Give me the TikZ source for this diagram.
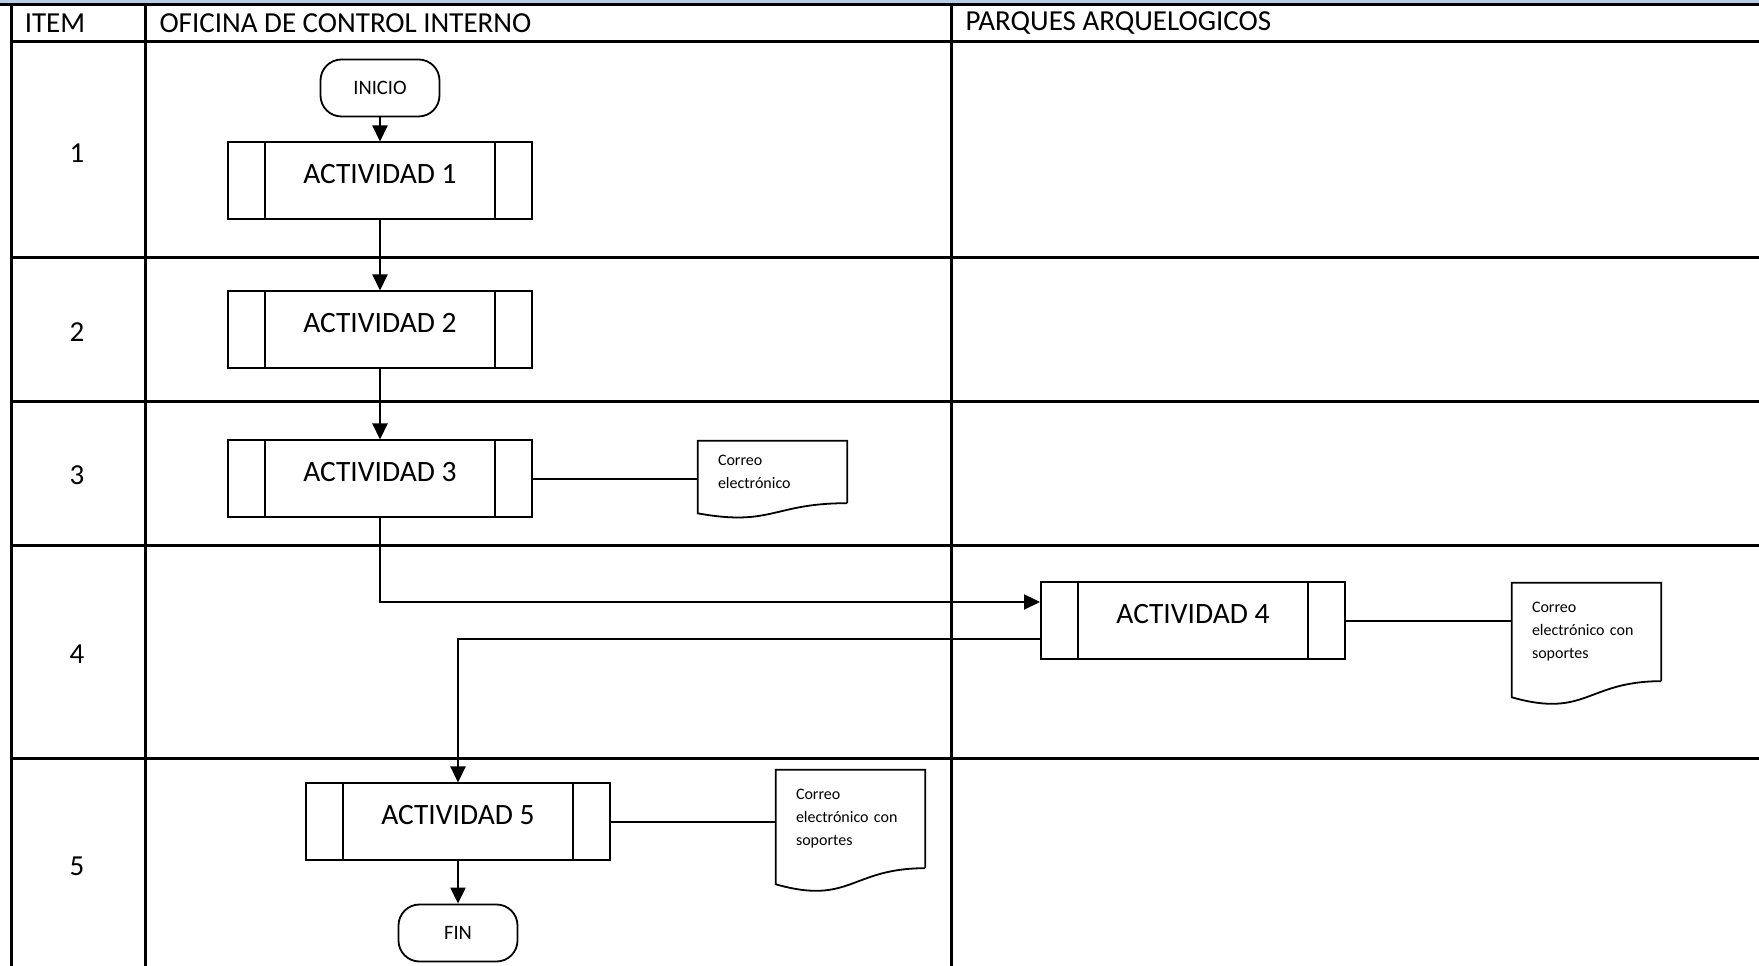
\documentclass[tikz,border=0pt]{standalone}
\usepackage{fontspec}
\setmainfont{Carlito}
\usepackage{tikz}
\usetikzlibrary{calc}
\usetikzlibrary{arrows.meta}

\definecolor{franja}{RGB}{184,204,228}

\begin{document}
\begin{tikzpicture}[x=1pt,y=1pt,>={Triangle[length=16pt,width=15pt]},
  linea/.style={line width=3pt},
  conector/.style={line width=2.2pt},
  terminal/.style={draw, rectangle, rounded corners=21pt, minimum width=119pt,
    minimum height=57pt, line width=1.8pt, font=\fontsize{20.5}{24}\selectfont},
  proceso/.style={draw, rectangle, minimum width=304pt, minimum height=77pt,
    line width=2pt, text depth=14pt, font=\fontsize{29.5}{34}\selectfont,
    path picture={\draw[line width=1.4pt]
      ([xshift=37pt]path picture bounding box.north west) -- ([xshift=37pt]path picture bounding box.south west)
      ([xshift=-37pt]path picture bounding box.north east) -- ([xshift=-37pt]path picture bounding box.south east);}},
  documento/.style={rectangle, minimum width=149pt, text width=109pt, align=left,
    font=\fontsize{16}{23}\selectfont},
  titulo/.style={font=\fontsize{29}{34}\selectfont}]
  \useasboundingbox (0,0) rectangle (1759,966);

  % tabla
  \fill[franja] (0,963) rectangle (1759,966);
  \draw[line width=3.5pt] (0,961.5) -- (1759,961.5);
  \foreach \y in {924,708,564,420,207}
    \draw[linea] (11,\y) -- (1759,\y);
  \foreach \x in {11,145,951}
    \draw[linea] (\x,961.5) -- (\x,0);

  \node[titulo]              (item)    at (55,943)  {ITEM};
  \node[titulo, anchor=west] (oficina) at (156,943) {OFICINA DE CONTROL INTERNO};
  \node[titulo, anchor=west] (parques) at (962,943) {PARQUES ARQUELOGICOS};
  \foreach \n/\y in {1/813,2/634,3/491,4/312,5/100}
    \node[titulo] (fila\n) at (77,\y) {\n};

  % diagrama
  \node[terminal]  (inicio) at (380,878)   {INICIO};
  \node[proceso]   (a1)     at (380,785)   {ACTIVIDAD 1};
  \node[proceso]   (a2)     at (380,636)   {ACTIVIDAD 2};
  \node[proceso]   (a3)     at (380,487)   {ACTIVIDAD 3};
  \node[proceso]   (a4)     at (1193,345)  {ACTIVIDAD 4};
  \node[proceso]   (a5)     at (458,144)   {ACTIVIDAD 5};
  \node[terminal]  (fin)    at (458,33)    {FIN};
  \node[documento, minimum height=62pt] (d1) at (772.5,494)  {Correo\\electrónico};
  \node[documento, minimum height=98pt] (d2) at (1586.5,334) {Correo\\electrónico con\\soportes};
  \node[documento, minimum height=98pt] (d3) at (850.5,147)  {Correo\\electrónico con\\soportes};

  % hojas de los documentos
  \foreach \d/\h in {d1/77,d2/122,d3/122}
    \draw[line width=1.8pt] (\d.south east) -- (\d.north east) -- (\d.north west)
      -- ([yshift={-0.132*\h}]\d.south west)
      .. controls +(74.5,{-0.174*\h}) and +(-74.5,0) .. (\d.south east);

  \path[->, conector]
        (inicio) edge (a1)
        (a1)     edge (a2)
        (a2)     edge (a3)
        (a5)     edge (fin);
  \draw[->, conector] (a3.south) |- ([yshift=19pt]a4.west);
  \draw[->, conector] ([yshift=-18pt]a4.west) -| (a5.north);
  \draw[conector] (a3.east) -- (a3.east -| d1.west);
  \draw[conector] (a4.east) -- (a4.east -| d2.west);
  \draw[conector] (a5.east) -- (a5.east -| d3.west);
\end{tikzpicture}
\end{document}
